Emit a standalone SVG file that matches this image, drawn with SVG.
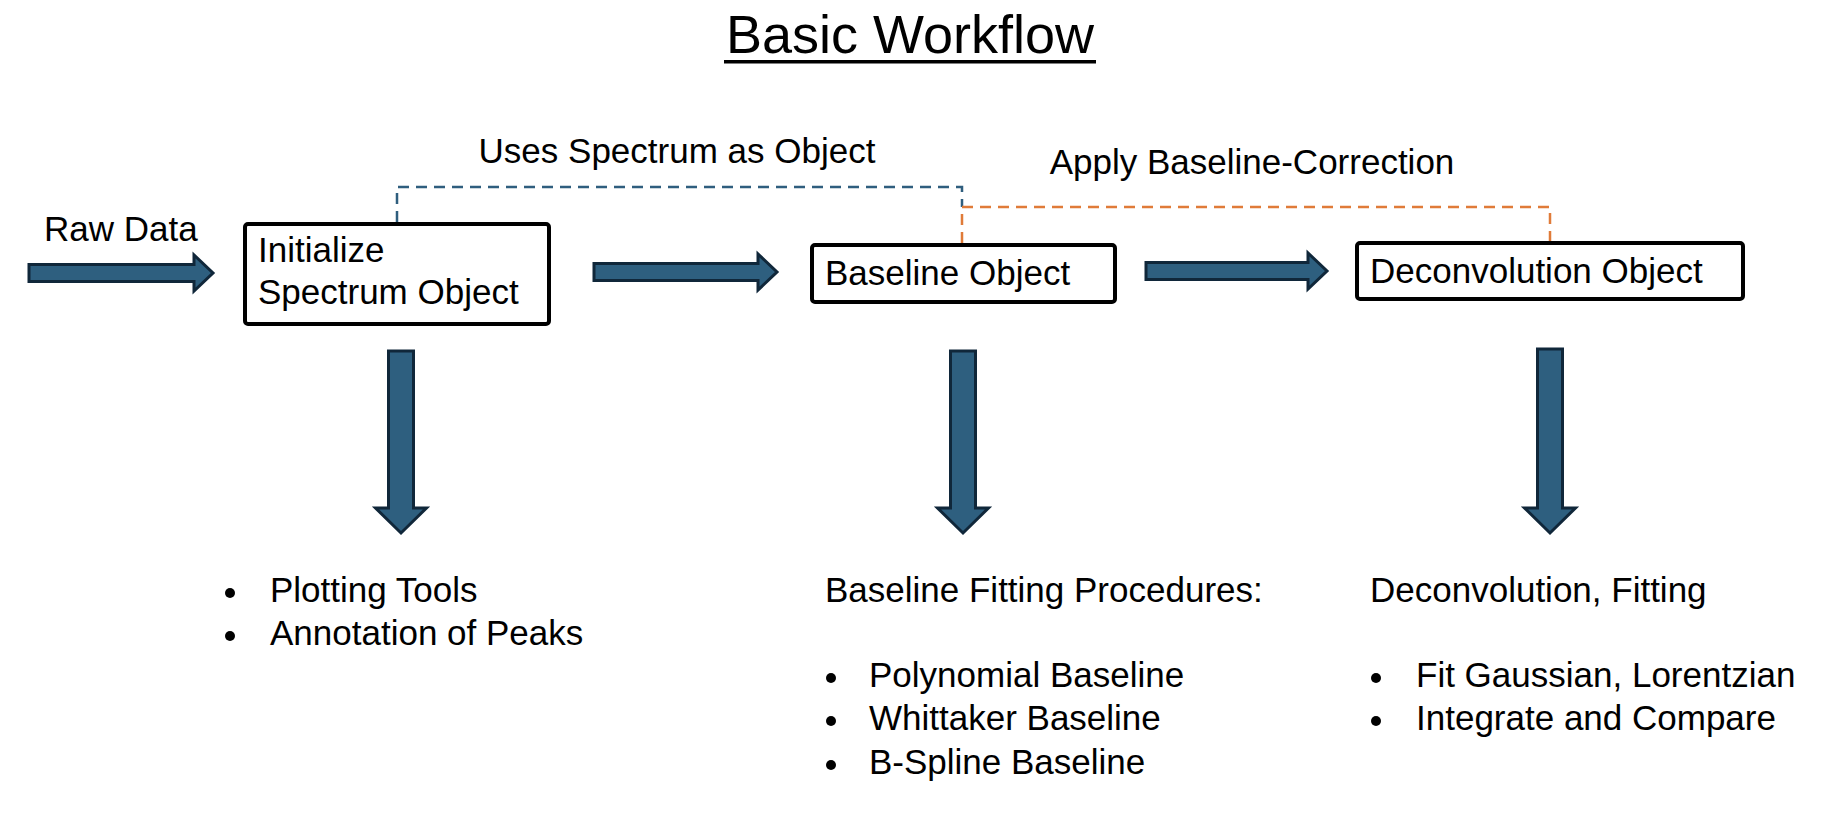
<svg xmlns="http://www.w3.org/2000/svg" width="1824" height="832" viewBox="0 0 1824 832">
<style>
  text { font-family: "Liberation Sans", Arial, sans-serif; fill: #000; }
  .t { font-size: 35px; }
  .title { font-size: 54px; }
  .box { fill: #fff; stroke: #000; stroke-width: 4; }
  .arrow { fill: #2E5F7F; stroke: #10273A; stroke-width: 3; stroke-linejoin: miter; }
  .dashBlue { fill: none; stroke: #2F5E7E; stroke-width: 2.5; stroke-dasharray: 11 7; }
  .dashOrange { fill: none; stroke: #E07B39; stroke-width: 2.5; stroke-dasharray: 11 7; }
</style>
<rect width="1824" height="832" fill="#fff"/>

<g id="title">
  <text class="title" x="910" y="53" text-anchor="middle">Basic Workflow</text>
  <rect x="724" y="60" width="372" height="3.5" fill="#000"/>
</g>

<g id="connectors">
  <path class="dashBlue" d="M397,222 V187 H962 V207"/>
  <path class="dashOrange" d="M962,243 V207 H1550 V241"/>
  <polygon class="arrow" points="29,264.5 194,264.5 194,255 213,273 194,291 194,281.5 29,281.5"/>
  <polygon class="arrow" points="594,263.5 758,263.5 758,254 777,272 758,290 758,280.5 594,280.5"/>
  <polygon class="arrow" points="1146,262.5 1308,262.5 1308,253 1327,271 1308,289 1308,279.5 1146,279.5"/>
  <polygon class="arrow" points="388.5,351 413.5,351 413.5,508 426.5,508 401,533 375.5,508 388.5,508"/>
  <polygon class="arrow" points="950.5,351 975.5,351 975.5,508 988.5,508 963,533 937.5,508 950.5,508"/>
  <polygon class="arrow" points="1537.5,349 1562.5,349 1562.5,508 1575.5,508 1550,533 1524.5,508 1537.5,508"/>
  <text class="t" x="677" y="163" text-anchor="middle">Uses Spectrum as Object</text>
  <text class="t" x="1252" y="174" text-anchor="middle">Apply Baseline-Correction</text>
  <text class="t" x="44" y="241">Raw Data</text>
</g>

<g id="node-initialize">
  <rect class="box" x="245" y="224" width="304" height="100" rx="3"/>
  <text class="t" x="258" y="262">Initialize</text>
  <text class="t" x="258" y="304">Spectrum Object</text>
</g>

<g id="node-baseline">
  <rect class="box" x="812" y="245" width="303" height="57" rx="3"/>
  <text class="t" x="825" y="285">Baseline Object</text>
</g>

<g id="node-deconvolution">
  <rect class="box" x="1357" y="243" width="386" height="56" rx="3"/>
  <text class="t" x="1370" y="283">Deconvolution Object</text>
</g>

<g id="list-spectrum">
  <circle cx="230" cy="593" r="5"/>
  <text class="t" x="270" y="602">Plotting Tools</text>
  <circle cx="230" cy="636" r="5"/>
  <text class="t" x="270" y="645">Annotation of Peaks</text>
</g>

<g id="list-baseline">
  <text class="t" x="825" y="602">Baseline Fitting Procedures:</text>
  <circle cx="831" cy="678" r="5"/>
  <text class="t" x="869" y="687">Polynomial Baseline</text>
  <circle cx="831" cy="721" r="5"/>
  <text class="t" x="869" y="730">Whittaker Baseline</text>
  <circle cx="831" cy="765" r="5"/>
  <text class="t" x="869" y="774">B-Spline Baseline</text>
</g>

<g id="list-deconvolution">
  <text class="t" x="1370" y="602">Deconvolution, Fitting</text>
  <circle cx="1376" cy="678" r="5"/>
  <text class="t" x="1416" y="687">Fit Gaussian, Lorentzian</text>
  <circle cx="1376" cy="721" r="5"/>
  <text class="t" x="1416" y="730">Integrate and Compare</text>
</g>
</svg>
